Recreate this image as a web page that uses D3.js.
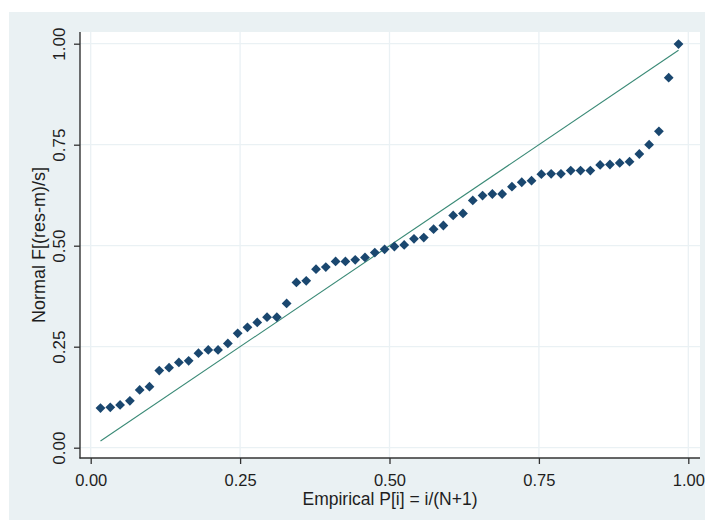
<!DOCTYPE html>
<html>
<head>
<meta charset="utf-8">
<script src="https://cdn.jsdelivr.net/npm/d3@7"></script>
<style>
  body { margin: 0; background: #fff; }
  text { font-family: "Liberation Sans", Arial, sans-serif; fill: #1e1e1e; }
</style>
</head>
<body>
<svg id="pnorm"></svg>
<script>
// normal F[(res-m)/s], sorted residuals
const normF = [
  0.098, 0.100, 0.106, 0.116, 0.143, 0.151, 0.191, 0.198, 0.211, 0.215,
  0.234, 0.242, 0.242, 0.258, 0.283, 0.298, 0.310, 0.323, 0.323, 0.357,
  0.409, 0.413, 0.442, 0.447, 0.461, 0.461, 0.465, 0.471, 0.483, 0.491,
  0.498, 0.502, 0.517, 0.520, 0.541, 0.550, 0.575, 0.580, 0.612, 0.624,
  0.628, 0.628, 0.646, 0.657, 0.661, 0.677, 0.678, 0.678, 0.686, 0.686,
  0.686, 0.700, 0.701, 0.705, 0.708, 0.727, 0.750, 0.783, 0.916, 0.999
];
const ticks = [0, 0.25, 0.5, 0.75, 1];
const xTitle = 'Empirical P[i] = i/(N+1)';
const yTitle = 'Normal F[(res-m)/s]';

// empirical P[i] = i/(N+1), as the axis title says
const N = normF.length;
const points = normF.map((v, i) => ({ p: (i + 1) / (N + 1), f: v }));

const svg = d3.select('#pnorm')
  .attr('width', 705)
  .attr('height', 521);

// outer graph region and plot region
svg.append('rect')
  .attr('x', 9).attr('y', 12)
  .attr('width', 696).attr('height', 508)
  .attr('fill', '#eaf1f3');
svg.append('rect')
  .attr('x', 80).attr('y', 32)
  .attr('width', 620).attr('height', 426)
  .attr('fill', '#fff');

const x = d3.scaleLinear().domain([0, 1]).range([90.7, 688.3]);
const y = d3.scaleLinear().domain([0, 1]).range([447.7, 43.7]);

// grid
svg.append('g')
  .selectAll('line.h')
  .data(ticks)
  .join('line')
  .attr('x1', 80).attr('x2', 700)
  .attr('y1', d => y(d)).attr('y2', d => y(d))
  .attr('stroke', '#eaf1f4').attr('stroke-width', 1.3);
svg.append('g')
  .selectAll('line.v')
  .data(ticks)
  .join('line')
  .attr('y1', 32).attr('y2', 458)
  .attr('x1', d => x(d)).attr('x2', d => x(d))
  .attr('stroke', '#eaf1f4').attr('stroke-width', 1.3);

// axes
const gx = svg.append('g')
  .attr('transform', 'translate(0,458)')
  .call(d3.axisBottom(x).tickValues(ticks).tickFormat(d3.format('.2f')).tickSize(6).tickSizeOuter(0));
gx.select('.domain').remove();
gx.selectAll('.tick line').attr('stroke', '#333').attr('stroke-width', 1.3);
gx.selectAll('.tick text')
  .attr('y', 27.5).attr('dy', 0)
  .style('font-size', '16.5px');

const gy = svg.append('g')
  .attr('transform', 'translate(80,0)')
  .call(d3.axisLeft(y).tickValues(ticks).tickFormat(d3.format('.2f')).tickSize(6).tickSizeOuter(0));
gy.select('.domain').remove();
gy.selectAll('.tick line').attr('stroke', '#333').attr('stroke-width', 1.3);
gy.selectAll('.tick text')
  .attr('transform', 'rotate(-90)')
  .attr('x', 0).attr('y', -15).attr('dy', 0)
  .style('text-anchor', 'middle')
  .style('font-size', '17px');

svg.append('line')
  .attr('x1', 80).attr('x2', 80).attr('y1', 32).attr('y2', 458.5)
  .attr('stroke', '#333').attr('stroke-width', 1.4);
svg.append('line')
  .attr('x1', 79.5).attr('x2', 700).attr('y1', 458).attr('y2', 458)
  .attr('stroke', '#333').attr('stroke-width', 1.4);

// titles
svg.append('text')
  .attr('x', 390).attr('y', 504.5)
  .attr('text-anchor', 'middle')
  .style('font-size', '17.5px')
  .text(xTitle);
svg.append('text')
  .attr('transform', 'translate(45,245) rotate(-90)')
  .attr('text-anchor', 'middle')
  .style('font-size', '18px')
  .text(yTitle);

// reference line y = x over the range of P
const ref = d3.extent(points, d => d.p);
svg.append('line')
  .attr('x1', x(ref[0])).attr('y1', y(ref[0]))
  .attr('x2', x(ref[1])).attr('y2', y(ref[1]))
  .attr('stroke', '#3a8a76').attr('stroke-width', 1.1);

// diamonds
svg.append('g')
  .selectAll('path')
  .data(points)
  .join('path')
  .attr('d', d3.symbol().type(d3.symbolSquare).size(48))
  .attr('transform', d => `translate(${x(d.p)},${y(d.f)}) rotate(45)`)
  .attr('fill', '#1a476f');
</script>
</body>
</html>
